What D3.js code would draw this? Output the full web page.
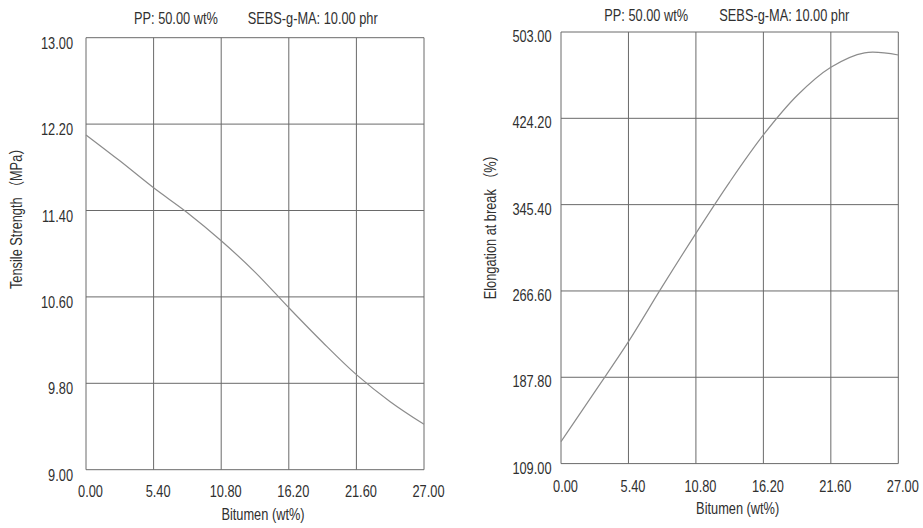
<!DOCTYPE html>
<html>
<head>
<meta charset="utf-8">
<script src="https://cdn.jsdelivr.net/npm/d3@7"></script>
<style>
  html, body { margin: 0; padding: 0; background: #fff; }
  svg { display: block; }
  text { font-family: "Liberation Sans", Arial, "Noto Sans CJK SC", sans-serif; fill: #303030; }
</style>
</head>
<body>
<svg id="chart" width="923" height="528"></svg>
<script>
// Bitumen content (wt%) at which the response curves are sampled
const bitumen = [0, 2.7, 5.4, 8.1, 10.8, 13.5, 16.2, 18.9, 21.6, 24.3, 27];
// Tensile strength (MPa)
const tensile = [12.10, 11.86, 11.61, 11.38, 11.12, 10.83, 10.50, 10.18, 9.88, 9.63, 9.42];
// Elongation at break (%)
const elongation = [129.0, 174.5, 220.3, 270.5, 319.2, 366.0, 409.0, 445.0, 470.8, 484.0, 482.0];

// Axis ticks
const xTicks = [0, 5.4, 10.8, 16.2, 21.6, 27];
const tensileTicks = [9.0, 9.8, 10.6, 11.4, 12.2, 13.0];
const elongationTicks = [109.0, 187.8, 266.6, 345.4, 424.2, 503.0];

// Labels
const headerLeft = "PP: 50.00 wt%";
const headerRight = "SEBS-g-MA: 10.00 phr";
const xTitle = "Bitumen (wt%)";
const tensileTitle = "Tensile Strength （MPa）";
const elongationTitle = "Elongation at break （%）";

const svg = d3.select("#chart");
const SX = 0.8;           // horizontal squeeze applied to all text
const fmt = d => d.toFixed(2);

function label(g, x, y, str, anchor, rotate) {
  g.append("g")
    .attr("transform", `translate(${x},${y})` + (rotate ? ` rotate(${rotate})` : "") + ` scale(${SX},1)`)
    .append("text")
    .attr("text-anchor", anchor)
    .attr("font-size", 16)
    .text(str);
}

function panel(opts) {
  const g = svg.append("g");
  const x = d3.scaleLinear().domain([0, 27]).range([opts.left, opts.right]);
  const y = d3.scaleLinear().domain(opts.domain).range([opts.bottom, opts.top]);

  // grid
  g.selectAll("line.vx").data(xTicks).join("line")
    .attr("x1", d => x(d)).attr("x2", d => x(d))
    .attr("y1", opts.top).attr("y2", opts.bottom)
    .attr("stroke", "#6a6a6a").attr("stroke-width", 1);
  g.selectAll("line.hy").data(opts.ticks).join("line")
    .attr("x1", opts.left).attr("x2", opts.right)
    .attr("y1", d => y(d)).attr("y2", d => y(d))
    .attr("stroke", "#6a6a6a").attr("stroke-width", 1);

  // curve
  const line = d3.line()
    .x((d, i) => x(bitumen[i]))
    .y(d => y(d))
    .curve(d3.curveCatmullRom.alpha(0.5));
  g.append("path")
    .attr("d", line(opts.values))
    .attr("fill", "none")
    .attr("stroke", "#8c8c8c")
    .attr("stroke-width", 1.2);

  // tick labels
  xTicks.forEach(t => label(g, x(t) + 4.5, opts.bottom + opts.xLabelDy, fmt(t), "middle"));
  opts.ticks.forEach(t => label(g, opts.left - opts.yLabelDx, y(t) + opts.yLabelDy, fmt(t), "end"));

  // titles
  label(g, (opts.left + opts.right) / 2 + 8, opts.bottom + opts.xTitleDy, xTitle, "middle");
  label(g, opts.yTitleX, opts.yTitleY, opts.yTitle, "middle", -90);
  label(g, opts.headerX1, opts.headerY, headerLeft, "start");
  label(g, opts.headerX2, opts.headerY, headerRight, "start");
}

panel({
  left: 86, right: 424, top: 37.7, bottom: 469.7,
  domain: [9, 13], ticks: tensileTicks, values: tensile,
  xLabelDy: 27.5, yLabelDx: 13, yLabelDy: 11, xTitleDy: 50,
  yTitle: tensileTitle, yTitleX: 21.5, yTitleY: 215.5,
  headerX1: 134, headerX2: 247.7, headerY: 24
});

panel({
  left: 561, right: 898.3, top: 32, bottom: 463.6,
  domain: [109, 503], ticks: elongationTicks, values: elongation,
  xLabelDy: 28, yLabelDx: 9.5, yLabelDy: 10, xTitleDy: 50,
  yTitle: elongationTitle, yTitleX: 496, yTitleY: 224,
  headerX1: 604.3, headerX2: 719.3, headerY: 20.7
});
</script>
</body>
</html>
